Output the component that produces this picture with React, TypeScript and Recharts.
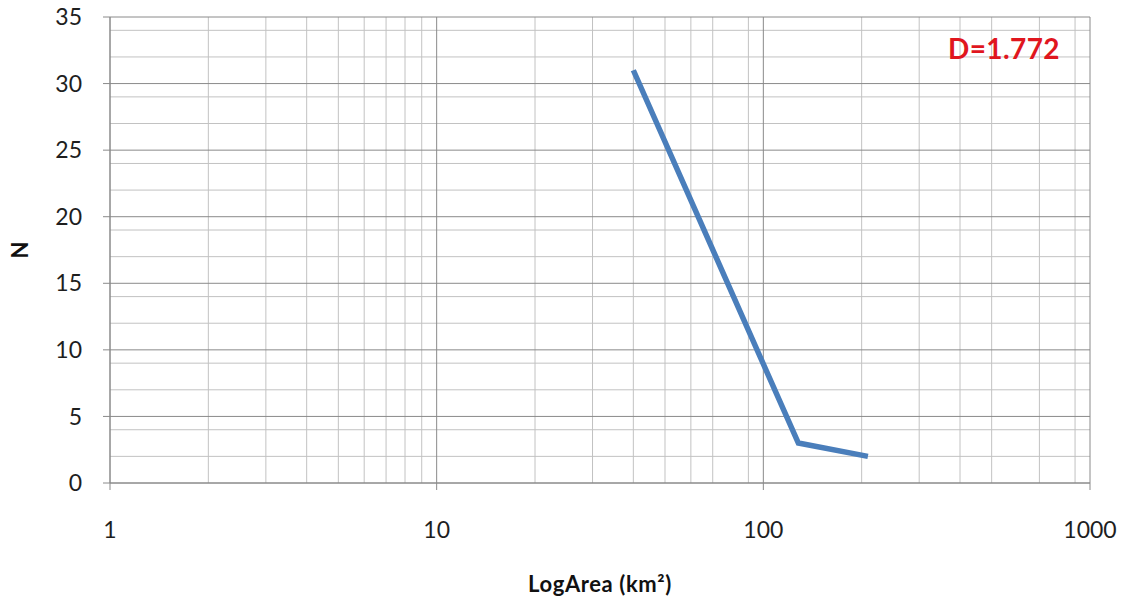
import { LineChart, Line, XAxis, YAxis, CartesianGrid } from "recharts";

const areas = [40, 128, 209];
const counts = [31, 3, 2];

const xTicks = [1, 10, 100, 1000];
const yTicks = [0, 5, 10, 15, 20, 25, 30, 35];

const xMinor = [
  2, 3, 4, 5, 6, 7, 8, 9,
  20, 30, 40, 50, 60, 70, 80, 90,
  200, 300, 400, 500, 600, 700, 800, 900,
];
const yMinor = [
  1, 2, 3, 4, 6, 7, 8, 9, 11, 12, 13, 14, 16, 17, 18, 19,
  21, 22, 23, 24, 26, 27, 28, 29, 31, 32, 33, 34,
];

const data = areas.map((area, i) => ({ area, n: counts[i] }));

const font = "Lato, 'Open Sans', sans-serif";
const tickStyle = { fontSize: 23, fill: "#1e1e1e", fontFamily: font };

export default function App() {
  return (
    <div style={{ position: "absolute", left: 0, top: 0, width: 1123, height: 597, background: "#fff" }}>
      <LineChart
        width={1123}
        height={597}
        data={data}
        margin={{ top: 17, right: 33, bottom: 0, left: 0 }}
      >
        <CartesianGrid
          stroke="#c2c2c2"
          strokeWidth={1}
          horizontalValues={yMinor}
          verticalValues={xMinor}
        />
        <CartesianGrid
          stroke="#8a8a8a"
          strokeWidth={1}
          horizontalValues={yTicks}
          verticalValues={xTicks}
        />
        <XAxis
          dataKey="area"
          type="number"
          scale="log"
          domain={[1, 1000]}
          ticks={xTicks}
          allowDataOverflow
          height={114}
          tickSize={7}
          tickMargin={32}
          tick={tickStyle}
          stroke="#8a8a8a"
          label={{
            value: "LogArea (km²)",
            position: "insideBottom",
            offset: 5,
            style: { fontSize: 22, fontWeight: 700, fill: "#111", fontFamily: font, letterSpacing: 0.6 },
          }}
        />
        <YAxis
          dataKey="n"
          type="number"
          domain={[0, 35]}
          ticks={yTicks}
          width={110}
          tickSize={7}
          tickMargin={21}
          tick={tickStyle}
          stroke="#8a8a8a"
          label={{
            value: "N",
            angle: -90,
            position: "insideLeft",
            offset: 20,
            style: { fontSize: 22, fontWeight: 700, fill: "#111", fontFamily: font, textAnchor: "middle" },
          }}
        />
        <Line
          type="linear"
          dataKey="n"
          stroke="#4a7ebb"
          strokeWidth={5.5}
          dot={false}
          isAnimationActive={false}
        />
      </LineChart>
      <div
        style={{
          position: "absolute",
          left: 948,
          top: 33,
          fontFamily: font,
          fontWeight: 700,
          fontSize: 28,
          lineHeight: "30px",
          letterSpacing: 0.4,
          color: "#e0161e",
        }}
      >
        D=1.772
      </div>
    </div>
  );
}
